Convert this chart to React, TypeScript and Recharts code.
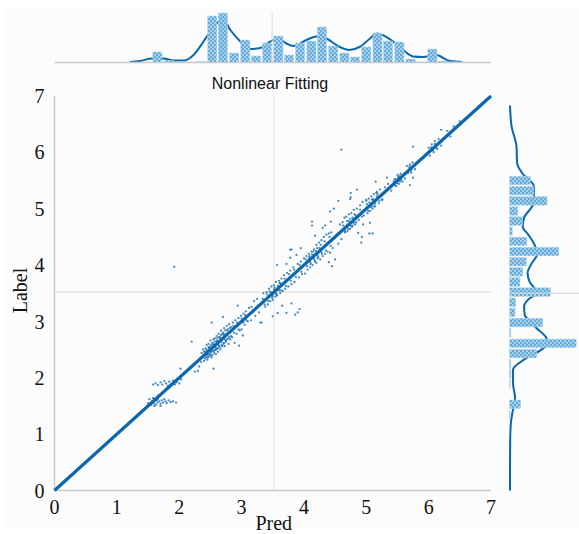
import {
  Bar,
  ComposedChart,
  Line,
  ReferenceLine,
  Scatter,
  ScatterChart,
  XAxis,
  YAxis,
} from "recharts";

const axisTicks = [0, 1, 2, 3, 4, 5, 6, 7];
const diagonal = [0, 7];

// top marginal: prediction histogram + density
const predBins = [1.65, 1.83, 2.0, 2.18, 2.35, 2.53, 2.7, 2.88, 3.06, 3.23, 3.41, 3.59, 3.76, 3.94, 4.12, 4.29, 4.47, 4.65, 4.82, 5.0, 5.18, 5.35, 5.53, 5.71, 5.88, 6.06, 6.23, 6.41];
const predCounts = [21, 4, 1, 1, 2, 93, 99, 19, 45, 13, 39, 53, 15, 39, 43, 71, 33, 19, 11, 31, 59, 43, 41, 7, 1, 27, 3, 1];
const predKdeX = [1.21, 1.37, 1.56, 1.75, 1.91, 2.07, 2.23, 2.39, 2.46, 2.6, 2.71, 2.82, 2.98, 3.14, 3.3, 3.46, 3.59, 3.72, 3.83, 4.04, 4.2, 4.36, 4.52, 4.73, 4.89, 5.06, 5.17, 5.43, 5.59, 5.75, 5.91, 6.12, 6.34, 6.53];
const predKdeY = [1, 3, 8, 8, 4, 4, 15, 42, 55, 78, 85, 65, 42, 27, 29, 42, 48, 38, 33, 45, 52, 48, 35, 25, 31, 48, 58, 42, 25, 12, 11, 15, 3, 1];

// right marginal: label histogram + density
const labelBins = [5.5, 5.32, 5.14, 4.96, 4.78, 4.6, 4.42, 4.24, 4.06, 3.88, 3.7, 3.52, 3.34, 3.16, 2.98, 2.8, 2.61, 2.43, 2.25, 2.07, 1.89, 1.53, 1.35];
const labelCounts = [30, 35, 54, 12, 19, 4, 25, 71, 24, 19, 15, 59, 9, 8, 48, 2, 96, 39, 2, 2, 1, 16, 1];
const labelKdeY = [6.83, 6.46, 6.11, 5.81, 5.62, 5.4, 5.1, 5.03, 4.84, 4.68, 4.54, 4.36, 4.2, 4.03, 3.86, 3.7, 3.5, 3.41, 3.26, 3.11, 3.0, 2.88, 2.73, 2.61, 2.5, 2.33, 2.14, 1.91, 1.64, 1.43, 1.2, 0.9, 0.4, 0];
const labelKdeX = [0.7, 3, 10, 11, 19, 35, 35, 32, 21, 19, 27, 36, 40, 32, 26, 29, 40, 29, 21, 22, 30, 39, 52, 55, 46, 22, 5, 5, 8, 5, 2, 1, 0.7, 0.7];

// residual points around the diagonal, [pred, label]
const bandLow = [[1.5, 1.55], [1.52, 1.62], [1.55, 1.52], [1.56, 1.58], [1.58, 1.64], [1.6, 1.54], [1.62, 1.6], [1.63, 1.52], [1.65, 1.56], [1.66, 1.63], [1.68, 1.58], [1.7, 1.54], [1.72, 1.6], [1.74, 1.56], [1.76, 1.62], [1.78, 1.58], [1.8, 1.55], [1.83, 1.6], [1.86, 1.57], [1.9, 1.58], [1.95, 1.56], [1.6, 1.5], [1.7, 1.5]];
const bandHigh = [[1.58, 1.88], [1.62, 1.9], [1.66, 1.87], [1.7, 1.92], [1.73, 1.88], [1.76, 1.94], [1.79, 1.9], [1.82, 1.86], [1.84, 1.93], [1.87, 1.89], [1.9, 1.95], [1.93, 1.88], [1.96, 1.92], [2.0, 1.9], [2.03, 1.97], [2.02, 2.16], [1.92, 3.97]];
const clusterA = [[2.2, 2.64], [2.25, 2.11], [2.3, 2.12], [2.32, 2.2], [2.35, 2.28], [2.36, 2.44], [2.38, 2.5], [2.4, 2.3], [2.42, 2.52], [2.43, 2.36], [2.44, 2.58], [2.45, 2.32], [2.46, 2.42], [2.47, 2.6], [2.48, 2.38], [2.49, 2.55], [2.5, 2.4], [2.5, 2.66], [2.51, 2.45], [2.52, 2.98], [2.52, 2.36], [2.53, 2.62], [2.54, 2.48], [2.55, 2.16], [2.55, 2.68], [2.56, 2.44], [2.57, 2.7], [2.58, 2.5], [2.59, 2.42], [2.6, 2.74], [2.6, 2.52], [2.61, 2.66], [2.62, 2.46], [2.63, 2.78], [2.64, 2.56], [2.65, 2.72], [2.66, 2.5], [2.67, 2.84], [2.68, 2.58], [2.7, 3.08], [2.7, 2.8], [2.71, 2.6], [2.72, 2.88], [2.73, 2.56], [2.74, 2.78], [2.75, 2.64], [2.76, 2.92], [2.77, 2.68], [2.78, 2.86], [2.79, 2.6], [2.8, 2.95], [2.8, 2.72], [2.82, 2.68], [2.83, 2.9], [2.85, 2.72], [2.86, 2.98], [2.89, 2.62], [2.9, 3.02], [2.92, 2.78], [2.94, 3.28], [2.95, 3.06], [2.96, 2.57], [2.97, 2.84], [2.99, 3.1], [3.0, 2.86], [3.02, 2.75], [3.03, 3.14], [3.05, 2.94], [3.07, 3.18], [3.1, 3.0], [3.12, 3.24], [3.15, 3.02], [3.16, 3.26], [3.2, 3.36], [3.22, 3.1]];
const clusterB = [[3.25, 3.4], [3.28, 3.16], [3.32, 2.98], [3.3, 2.98], [3.35, 3.5], [3.38, 3.26], [3.4, 3.52], [3.42, 3.3], [3.44, 3.58], [3.46, 3.36], [3.48, 3.62], [3.5, 3.09], [3.5, 3.38], [3.52, 3.64], [3.54, 3.44], [3.55, 3.7], [3.57, 3.46], [3.58, 3.15], [3.6, 3.72], [3.62, 3.5], [3.64, 3.76], [3.65, 3.28], [3.66, 3.54], [3.68, 3.82], [3.7, 3.58], [3.72, 3.15], [3.73, 3.86], [3.75, 3.62], [3.78, 3.9], [3.8, 3.66], [3.8, 3.32], [3.83, 3.96], [3.85, 3.7], [3.86, 3.12], [3.9, 3.16], [3.93, 3.22], [3.9, 4.02], [3.92, 3.78], [3.95, 4.06], [3.97, 3.84], [4.0, 4.12], [4.02, 3.85], [3.8, 4.28], [3.78, 4.13], [3.95, 4.3], [3.72, 4.02], [3.88, 4.18]];
const clusterC = [[4.04, 4.16], [4.06, 3.92], [4.08, 4.2], [4.1, 3.96], [4.12, 4.24], [4.14, 4.0], [4.16, 4.28], [4.18, 4.06], [4.2, 4.36], [4.2, 4.04], [4.22, 4.12], [4.24, 4.4], [4.26, 4.1], [4.28, 4.44], [4.3, 4.16], [4.32, 4.5], [4.34, 4.2], [4.36, 4.54], [4.38, 4.24], [4.4, 4.56], [4.42, 4.22], [4.44, 4.58], [4.46, 4.3], [4.18, 4.52], [4.3, 4.66], [4.34, 4.7], [4.45, 3.98], [4.5, 4.1], [4.4, 4.05], [4.55, 4.38], [4.58, 4.72], [4.6, 4.46], [4.62, 4.76], [4.65, 4.84], [4.66, 4.58], [4.68, 4.86], [4.7, 4.6], [4.72, 4.9], [4.74, 4.64], [4.76, 4.92], [4.78, 4.7], [4.8, 4.98], [4.82, 4.72], [4.85, 5.0], [4.6, 6.05], [4.55, 5.14], [4.42, 4.95], [4.48, 5.0], [4.75, 5.28], [4.75, 5.2], [4.95, 4.72], [4.92, 4.4]];
const clusterD = [[4.88, 4.8], [4.9, 5.06], [4.94, 5.12], [4.96, 4.88], [5.0, 5.14], [5.02, 4.92], [5.04, 5.18], [5.06, 4.96], [5.08, 5.22], [5.1, 5.0], [5.12, 5.26], [5.14, 5.04], [5.16, 5.28], [5.2, 5.1], [5.22, 5.34], [5.25, 5.16], [5.3, 5.38], [5.35, 5.44], [5.4, 5.32], [5.45, 5.52], [5.48, 5.4], [5.5, 5.6], [5.52, 5.44], [5.55, 5.62], [5.58, 5.48], [5.62, 5.54], [5.65, 5.76], [5.7, 5.78], [5.72, 5.64], [5.74, 5.82], [5.78, 5.7], [5.7, 5.42], [6.0, 6.08], [6.02, 5.94], [6.05, 6.14], [6.08, 6.0], [6.1, 6.2], [6.14, 6.06], [6.16, 6.24], [6.2, 6.12], [6.3, 6.38], [6.35, 6.28], [6.4, 6.46], [6.2, 6.4], [6.5, 6.55]];
// tight knots sitting right on the line
const knots = [[1.6, 1.63], [1.64, 1.6], [1.58, 1.56], [1.67, 1.69], [2.48, 2.52], [2.52, 2.47], [2.55, 2.59], [2.58, 2.54], [2.6, 2.65], [2.63, 2.58], [2.66, 2.7], [2.68, 2.63], [2.71, 2.76], [2.73, 2.68], [2.42, 2.47], [2.45, 2.4], [3.0, 3.05], [3.03, 2.98], [3.06, 3.11], [3.08, 3.02], [3.52, 3.57], [3.55, 3.5], [3.58, 3.63], [3.6, 3.55], [3.62, 3.68], [3.47, 3.52], [3.5, 3.45], [4.08, 4.13], [4.1, 4.05], [4.13, 4.19], [4.16, 4.11], [4.19, 4.25], [4.22, 4.17], [4.25, 4.3], [4.28, 4.23], [4.72, 4.78], [4.75, 4.7], [4.78, 4.84], [4.8, 4.75], [4.83, 4.88], [5.05, 5.11], [5.08, 5.03], [5.11, 5.17], [5.14, 5.09], [5.17, 5.22], [5.47, 5.53], [5.5, 5.45], [5.53, 5.58], [5.56, 5.51], [5.69, 5.74], [5.72, 5.68], [5.67, 5.63], [6.04, 6.09], [6.07, 6.03], [6.1, 6.15], [6.12, 6.08]];
const halo = [[2.4, 2.46], [2.41, 2.34], [2.44, 2.5], [2.46, 2.36], [2.47, 2.54], [2.49, 2.42], [2.51, 2.58], [2.53, 2.4], [2.54, 2.6], [2.56, 2.48], [2.57, 2.64], [2.59, 2.5], [2.61, 2.7], [2.62, 2.52], [2.64, 2.72], [2.65, 2.54], [2.67, 2.76], [2.69, 2.56], [2.7, 2.78], [2.72, 2.62], [2.74, 2.84], [2.75, 2.66], [2.77, 2.84], [2.79, 2.7], [2.81, 2.88], [2.83, 2.74], [2.87, 2.92], [2.88, 2.8], [2.93, 2.98], [2.95, 2.86], [3.34, 3.4], [3.37, 3.3], [3.41, 3.48], [3.43, 3.36], [3.45, 3.53], [3.49, 3.42], [3.53, 3.6], [3.56, 3.48], [3.61, 3.68], [3.63, 3.55], [3.69, 3.76], [3.71, 3.63], [3.76, 3.84], [3.79, 3.72], [3.84, 3.92], [3.87, 3.79], [3.93, 4.0], [3.96, 3.88], [4.03, 4.1], [4.05, 3.98], [4.09, 4.16], [4.11, 4.02], [4.15, 4.24], [4.17, 4.08], [4.21, 4.3], [4.23, 4.14], [4.27, 4.36], [4.29, 4.2], [4.33, 4.42], [4.35, 4.26], [4.41, 4.5], [4.43, 4.34], [4.63, 4.7], [4.66, 4.6], [4.69, 4.78], [4.71, 4.64], [4.74, 4.82], [4.77, 4.68], [4.81, 4.9], [4.84, 4.76], [4.9, 4.98], [4.93, 4.86], [5.01, 5.08], [5.03, 4.96], [5.09, 5.16], [5.12, 5.04], [5.18, 5.26], [5.21, 5.14], [5.44, 5.48], [5.46, 5.42], [5.51, 5.56], [5.54, 5.48]];
const outliers = [[5.75, 6.1], [5.33, 5.55], [5.75, 5.55], [5.15, 5.48], [4.85, 5.34], [4.74, 5.17], [4.13, 4.77], [4.13, 4.7], [4.43, 4.77], [4.87, 4.57], [5.1, 4.56], [5.05, 4.56], [4.93, 4.5], [5.06, 4.75], [3.78, 4.27], [3.57, 4.0], [5.17, 5.3], [5.0, 5.16], [5.26, 5.16]];
const residuals = [...bandLow, ...bandHigh, ...clusterA, ...clusterB, ...clusterC, ...clusterD, ...knots, ...halo, ...outliers];

const BLUE = "#0b67ad";
const GRID = "#d9d9d9";
const AXIS = "#c9c9c9";
const serif = "'Liberation Serif', serif";

const predHist = predBins.map((pred, i) => ({ pred, count: predCounts[i] }));
const predKde = predKdeX.map((pred, i) => ({ pred, density: predKdeY[i] }));
const labelHist = labelBins.map((label, i) => ({ label, count: labelCounts[i] }));
const labelKde = labelKdeY.map((label, i) => ({ label, density: labelKdeX[i] }));
const points = residuals.map(([pred, label]) => ({ pred, label }));
const line45 = diagonal.map((v) => ({ pred: v, label: v }));

const HatchDefs = ({ id }: { id: string }) => (
  <defs>
    <pattern id={id} width="4" height="4" patternUnits="userSpaceOnUse">
      <rect width="4" height="4" fill="#62abdc" />
      <circle cx="1" cy="1" r="0.95" fill="#c4dff1" />
      <circle cx="3" cy="3" r="0.95" fill="#c4dff1" />
    </pattern>
  </defs>
);

const SmallDot = ({ cx, cy }: any) => <circle cx={cx} cy={cy} r={1.15} fill={BLUE} fillOpacity={0.75} />;

// numeric axes squeeze the band to almost nothing, so widen the bars here
const ColumnBar = ({ x, y, width, height }: any) => (
  <rect x={x + width / 2 - 4.6} y={y} width={9.2} height={height} fill="url(#hatchTop)" stroke="#b5d6ec" strokeWidth={0.5} />
);
const RowBar = ({ x, y, width, height }: any) => (
  <rect x={x} y={y + height / 2 - 4.3} width={width} height={8.6} fill="url(#hatchRight)" stroke="#b5d6ec" strokeWidth={0.5} />
);

const box = (left: number, top: number): React.CSSProperties => ({ position: "absolute", left, top });

export default function App() {
  return (
    <div style={{ position: "fixed", left: 0, top: 0, width: 579, height: 534, background: "#fff" }}>
      <div style={{ position: "absolute", left: 6, top: 8, width: 573, height: 520, background: "#fcfcfc" }} />

      {/* top marginal */}
      <div style={box(0, 0)}>
        <ComposedChart width={579} height={70} data={predHist} margin={{ top: 12.5, right: 88, bottom: 6.5, left: 54.5 }}>
          <HatchDefs id="hatchTop" />
          <XAxis dataKey="pred" type="number" domain={[0, 7]} height={1} tick={false} tickLine={false} axisLine={{ stroke: AXIS, strokeWidth: 1.5 }} />
          <YAxis type="number" domain={[0, 100]} width={0} hide />
          <ReferenceLine x={3.49} stroke={GRID} />
          <Line data={predKde} dataKey="density" type="monotone" stroke={BLUE} strokeWidth={2} dot={false} isAnimationActive={false} zIndex={100} />
          <Bar dataKey="count" shape={ColumnBar} isAnimationActive={false} />
        </ComposedChart>
      </div>

      <div style={{ ...box(0, 75), width: 540, textAlign: "center", fontFamily: "'Liberation Sans', sans-serif", fontSize: 16, color: "#111", lineHeight: "17px" }}>
        Nonlinear Fitting
      </div>

      {/* main scatter */}
      <div style={box(0, 0)}>
        <ScatterChart width={579} height={534} margin={{ top: 96, right: 88, bottom: 0, left: 0 }}>
          <XAxis
            dataKey="pred"
            type="number"
            domain={[0, 7]}
            ticks={axisTicks}
            height={43.5}
            tickLine={false}
            tickMargin={3}
            axisLine={{ stroke: AXIS, strokeWidth: 1.5 }}
            tick={{ fontFamily: serif, fontSize: 20, fill: "#111" }}
            label={{ value: "Pred", position: "insideBottom", offset: 4, dx: 1, fontFamily: serif, fontSize: 20, fill: "#111" }}
          />
          <YAxis
            dataKey="label"
            type="number"
            domain={[0, 7]}
            ticks={axisTicks}
            width={54.5}
            tickLine={false}
            tickMargin={4}
            axisLine={{ stroke: AXIS, strokeWidth: 1.5 }}
            tick={{ fontFamily: serif, fontSize: 20, fill: "#111" }}
            label={{ value: "Label", angle: -90, position: "insideLeft", offset: 20, dy: 20, fontFamily: serif, fontSize: 20, fill: "#111" }}
          />
          <ReferenceLine x={3.52} stroke={GRID} strokeDasharray="2 1" />
          <ReferenceLine y={3.52} stroke={GRID} />
          <Scatter data={points} shape={SmallDot} isAnimationActive={false} />
          <Scatter data={line45} line={{ stroke: BLUE, strokeWidth: 3.2 }} shape={() => <g />} isAnimationActive={false} />
        </ScatterChart>
      </div>

      {/* right marginal */}
      <div style={box(500, 0)}>
        <ComposedChart width={79} height={534} layout="vertical" data={labelHist} margin={{ top: 96, right: 0, bottom: 43.5, left: 9.5 }}>
          <HatchDefs id="hatchRight" />
          <XAxis type="number" domain={[0, 100]} hide />
          <YAxis dataKey="label" type="number" domain={[0, 7]} reversed width={0} tick={false} tickLine={false} axisLine={{ stroke: AXIS, strokeWidth: 1.5 }} />
          <ReferenceLine y={3.5} stroke={GRID} />
          <Line data={labelKde} dataKey="density" type="monotone" stroke={BLUE} strokeWidth={2} dot={false} isAnimationActive={false} zIndex={100} />
          <Bar dataKey="count" shape={RowBar} isAnimationActive={false} />
        </ComposedChart>
      </div>
    </div>
  );
}
